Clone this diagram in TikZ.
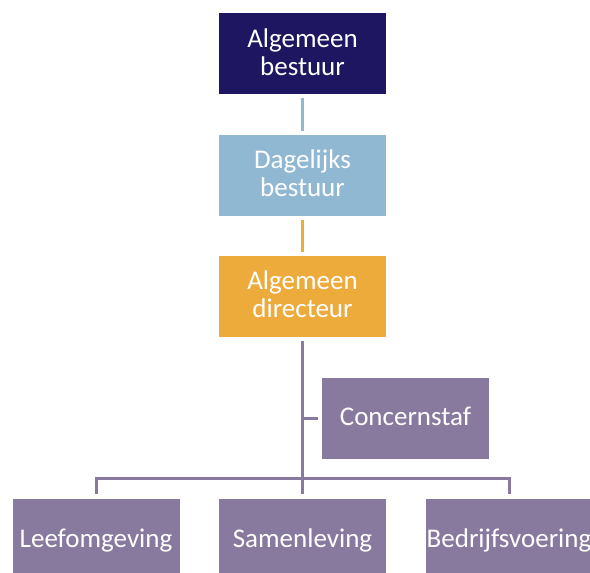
\documentclass[tikz,border=0pt]{standalone}
\usepackage{fontspec}
\setmainfont{Carlito}
\definecolor{navy}{HTML}{1E1660}
\definecolor{lblue}{HTML}{91B8D2}
\definecolor{orng}{HTML}{EDAB3C}
\definecolor{purp}{HTML}{887A9E}
\tikzset{
  orgbox/.style={draw=white, line width=0.6pt, fill=#1, text=white, minimum width=168pt, minimum height=82pt,
    inner sep=0pt, align=center, text height=15pt, text depth=0pt,
    font=\fontsize{27}{28.3}\selectfont},
  twoline/.style={text height=43.3pt, text depth=0pt},
  link/.style={line width=3pt, draw=#1}
}
\begin{document}
\begin{tikzpicture}[x=1pt,y=-1pt]
\useasboundingbox (0,0) rectangle (590,573);
\clip (0,0) rectangle (590,573);
\node[orgbox=navy, twoline] (ab) at (302.5,53.7) {Algemeen\\bestuur};
\node[orgbox=lblue, twoline] (db) at (302.5,175.3) {Dagelijks\\bestuur};
\node[orgbox=orng, twoline] (ad) at (302.5,296) {Algemeen\\directeur};
\node[orgbox=purp] (cs) at (405.5,418) {Concernstaf};
\node[orgbox=purp, text height=17pt] (le) at (96,539) {Leefomgeving};
\node[orgbox=purp, text height=17pt] (sa) at (302.5,539) {Samenleving};
\node[orgbox=purp, text height=17pt] (bv) at (509,539) {Bedrijfsvoering};
\coordinate (hub) at (302.5,478.3);
\draw[link=lblue, shorten <=3pt, shorten >=3pt] (ab.south) -- (db.north);
\draw[link=orng, shorten <=3pt, shorten >=3pt] (db.south) -- (ad.north);
\draw[link=purp, shorten <=4pt] (ad.south) -- (hub);
\draw[link=purp, shorten >=3pt] (ad.south |- cs.west) -- (cs.west);
\draw[link=purp, shorten <=4pt] (le.north) |- (hub);
\draw[link=purp, shorten <=4pt] (bv.north) |- (hub);
\draw[link=purp, shorten <=4pt] (sa.north) -- (hub);
\end{tikzpicture}
\end{document}
